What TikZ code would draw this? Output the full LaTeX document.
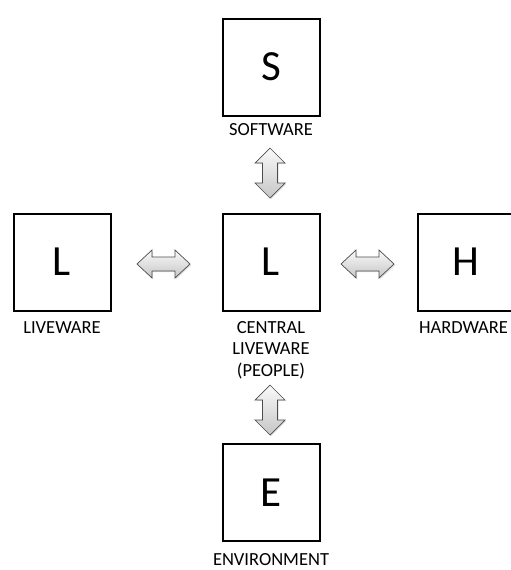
\documentclass[tikz,border=0pt]{standalone}
\usepackage{fontspec}
\setmainfont{Carlito}
\usetikzlibrary{shadows}

\tikzset{
  shellbox/.style={draw, line width=2pt, minimum size=97pt, inner sep=0pt,
    font=\fontsize{43}{43}\selectfont},
  shelllabel/.style={anchor=base, inner sep=0pt, align=center,
    font=\fontsize{18.5}{21.5}\selectfont},
  linkarrow/.style={draw=gray!60!black, line width=0.7pt, line join=miter,
    top color=gray!4, bottom color=gray!45,
    drop shadow={shadow xshift=1.2pt, shadow yshift=-1.2pt, opacity=0.25}},
  pics/harrow/.style={code={
    \path[linkarrow] (-26.5,0) -- (-11.5,-14) -- (-11.5,-7) -- (11.5,-7)
      -- (11.5,-14) -- (26.5,0) -- (11.5,14) -- (11.5,7) -- (-11.5,7)
      -- (-11.5,14) -- cycle;
  }},
  pics/varrow/.style={code={
    \path[linkarrow] (0,-25) -- (15,-10) -- (7.5,-10) -- (7.5,10)
      -- (15,10) -- (0,25) -- (-15,10) -- (-7.5,10) -- (-7.5,-10)
      -- (-15,-10) -- cycle;
  }}
}

\begin{document}
\begin{tikzpicture}[x=1pt, y=-1pt]

\useasboundingbox (0,0) rectangle (511,570);
\clip (0,0) rectangle (511,570);

% SHELL blocks
\node[shellbox] (sw)  at (271,67)    {S};
\node[shellbox] (cl)  at (271,262)   {L};
\node[shellbox] (lw)  at (62,262)    {L};
\node[shellbox] (hw)  at (466,262)   {H};
\node[shellbox] (env) at (271,492.5) {E};

% labels
\node[shelllabel] (swlab)  at (271,135)   {SOFTWARE};
\node[shelllabel] (cllab)  at (271,376)   {CENTRAL\\LIVEWARE\\(PEOPLE)};
\node[shelllabel] (lwlab)  at (62,333)    {LIVEWARE};
\node[shelllabel] (hwlab)  at (463.5,333) {HARDWARE};
\node[shelllabel] (envlab) at (271,565)   {ENVIRONMENT};

% interfaces
\pic at (270,173) {varrow};
\pic at (270,410) {varrow};
\pic at (163.5,264) {harrow};
\pic at (367.5,264) {harrow};

\end{tikzpicture}
\end{document}
